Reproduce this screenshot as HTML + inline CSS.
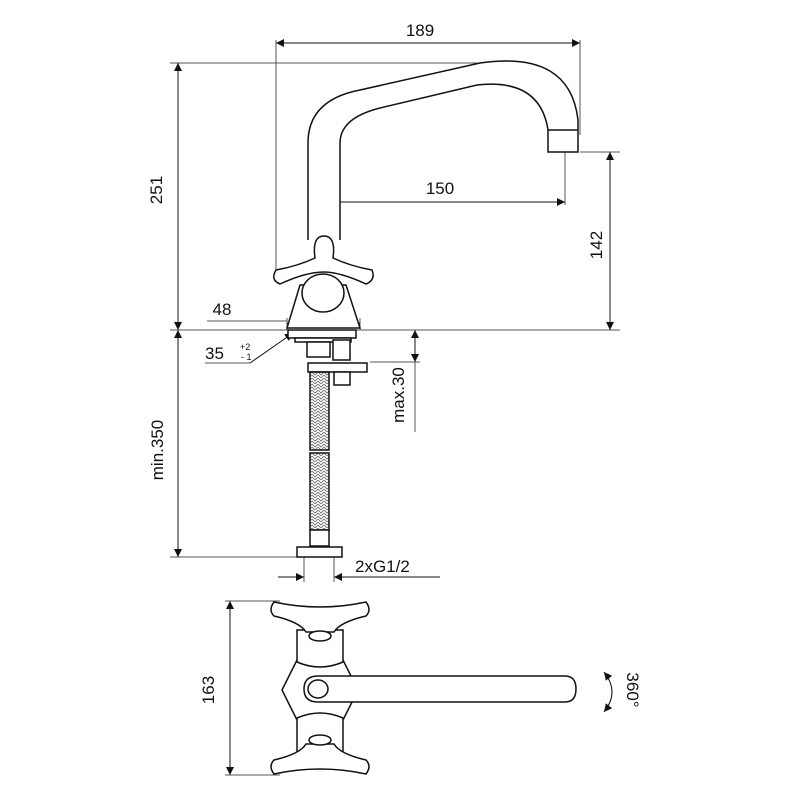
<!DOCTYPE html>
<html><head><meta charset="utf-8"><style>
html,body{margin:0;padding:0;background:#fff;}
svg{display:block;}
text{font-family:"Liberation Sans",Arial,sans-serif;fill:#111;}
</style></head><body>
<svg width="800" height="800" viewBox="0 0 800 800" xmlns="http://www.w3.org/2000/svg">
<defs>
<marker id="a" viewBox="0 0 10 10" refX="10" refY="5" markerWidth="14" markerHeight="8" orient="auto-start-reverse" markerUnits="userSpaceOnUse"><path d="M0,0 L10,5 L0,10 z" fill="#111"/></marker>
<pattern id="hose" width="6" height="6" patternUnits="userSpaceOnUse"><path d="M0,0 L3,3 L6,0 M0,3 L3,6 L6,3" stroke="#666" stroke-width="0.8" fill="none"/></pattern>
</defs>
<g stroke="#555" stroke-width="1" fill="none">
<line x1="276" y1="40" x2="276" y2="270"/>
<line x1="580" y1="40" x2="580" y2="135"/>
<line x1="170" y1="63" x2="480" y2="63"/>
<line x1="170" y1="330" x2="620" y2="330"/>
<line x1="580" y1="152" x2="620" y2="152"/>
<line x1="565" y1="152" x2="565" y2="205"/>
<line x1="324" y1="193" x2="324" y2="212"/>
<line x1="207" y1="321" x2="287" y2="321"/>
<line x1="287" y1="318" x2="287" y2="330"/>
<line x1="360" y1="318" x2="360" y2="330"/>
<line x1="170" y1="557" x2="300" y2="557"/>
<line x1="370" y1="362" x2="420" y2="362"/>
<line x1="304" y1="557" x2="304" y2="582"/>
<line x1="334" y1="557" x2="334" y2="582"/>
<line x1="225" y1="601" x2="280" y2="601"/>
<line x1="225" y1="775" x2="280" y2="775"/>
<line x1="205" y1="363" x2="250" y2="363"/>
</g>
<g stroke="#111" stroke-width="1" fill="none">
<line x1="276" y1="43" x2="580" y2="43" marker-start="url(#a)" marker-end="url(#a)"/>
<line x1="178" y1="63" x2="178" y2="330" marker-start="url(#a)" marker-end="url(#a)"/>
<line x1="324" y1="202" x2="565" y2="202" marker-start="url(#a)" marker-end="url(#a)"/>
<line x1="610" y1="152" x2="610" y2="330" marker-start="url(#a)" marker-end="url(#a)"/>
<line x1="287" y1="323" x2="360" y2="323" marker-start="url(#a)" marker-end="url(#a)"/>
<line x1="178" y1="330" x2="178" y2="557" marker-start="url(#a)" marker-end="url(#a)"/>
<line x1="415" y1="330" x2="415" y2="362" marker-start="url(#a)" marker-end="url(#a)"/>
<line x1="415" y1="362" x2="415" y2="432" stroke="#555"/>
<line x1="278" y1="577" x2="304" y2="577" marker-end="url(#a)"/>
<line x1="440" y1="577" x2="334" y2="577" marker-end="url(#a)"/>
<line x1="230" y1="601" x2="230" y2="775" marker-start="url(#a)" marker-end="url(#a)"/>
<line x1="250" y1="363" x2="293" y2="333" marker-end="url(#a)"/>
<path d="M604,672 Q620,692 604,712" marker-start="url(#a)" marker-end="url(#a)"/>
</g>
<g font-size="17">
<text x="420" y="36" text-anchor="middle">189</text>
<text x="440" y="194" text-anchor="middle">150</text>
<text x="222" y="315" text-anchor="middle">48</text>
<text x="205" y="359">35</text>
<text x="240" y="350" font-size="9">+2</text>
<text x="241" y="360" font-size="9">- 1</text>
<text x="355" y="572">2xG1/2</text>
<text transform="translate(162,190) rotate(-90)" text-anchor="middle">251</text>
<text transform="translate(602,245) rotate(-90)" text-anchor="middle">142</text>
<text transform="translate(163,450) rotate(-90)" text-anchor="middle">min.350</text>
<text transform="translate(404,395) rotate(-90)" text-anchor="middle">max.30</text>
<text transform="translate(214,690) rotate(-90)" text-anchor="middle">163</text>
<text transform="translate(627,690) rotate(90)" text-anchor="middle">360°</text>
</g>
<g stroke="#111" stroke-width="1.5" fill="#fff">
<path d="M308,240 L308,143 Q308,100 360,90 L480,63 Q570,50 578,120 L578,152 L548,152 L548,130 Q540,78 477,85 L380,108 Q340,118 340,143 L340,240"/>
<line x1="548" y1="130" x2="578" y2="130"/>
<path d="M300,285 L346,285 L360,328 L287,328 Z"/>
<ellipse cx="323" cy="293" rx="21" ry="19"/>
<path d="M315,258 Q312,236 324,236 Q336,236 333,258 Q350,266 372,270 Q376,280 366,284 Q340,272 324,272 Q306,272 280,284 Q270,280 276,270 Q298,266 315,258 Z"/>
<rect x="288" y="330" width="68" height="8"/>
<rect x="295" y="338" width="56" height="4"/>
<rect x="307" y="342" width="23" height="15"/>
<rect x="333" y="340" width="17" height="20"/>
<rect x="308" y="363" width="59" height="9"/>
<rect x="334" y="372" width="16" height="13"/>
<rect x="310" y="372" width="19" height="78" fill="url(#hose)"/>
<rect x="310" y="453" width="19" height="77" fill="url(#hose)"/>
<rect x="310" y="530" width="19" height="16"/>
<rect x="297" y="547" width="45" height="10"/>
<path d="M282,690 L297,660 L343,660 L358,690 L343,720 L297,720 Z"/>
<path d="M297,630 L343,630 L343,662 Q320,672 297,662 Z"/>
<path d="M297,718 Q320,708 343,718 L343,755 L297,755 Z"/>
<path d="M274,602 Q320,612 366,602 Q372,610 366,616 Q340,622 334,632 L306,632 Q300,622 274,616 Q268,610 274,602 Z"/>
<ellipse cx="320" cy="636" rx="11" ry="5"/>
<path d="M274,774 Q320,764 366,774 Q372,766 366,760 Q340,754 334,744 L306,744 Q300,754 274,760 Q268,766 274,774 Z"/>
<ellipse cx="320" cy="740" rx="11" ry="5"/>
<path d="M318,676 L565,676 Q576,676 576,689 Q576,702 565,702 L318,702 Q304,702 304,689 Q304,676 318,676 Z"/>
<ellipse cx="318" cy="689" rx="10" ry="9"/>
</g>
</svg>
</body></html>
